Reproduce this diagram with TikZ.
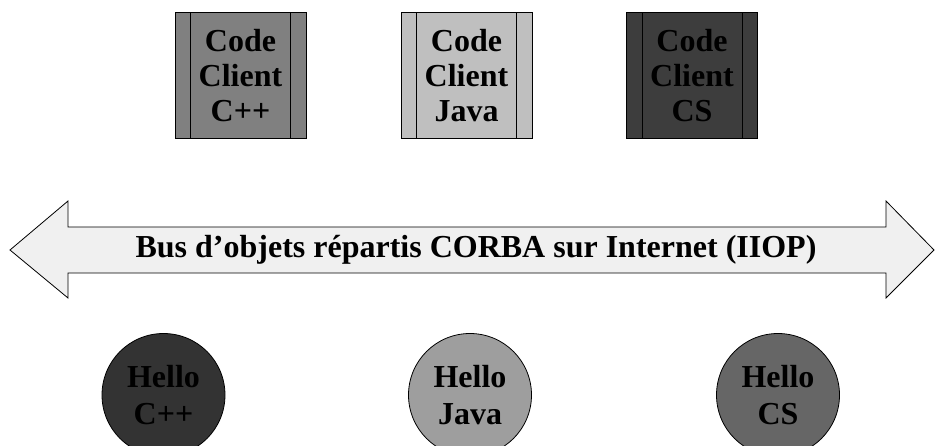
\documentclass[tikz,border=0pt]{standalone}
\usepackage{fontspec}
\setmainfont{Liberation Serif}
\begin{document}
\begin{tikzpicture}[x=1pt,y=-1pt,
  labelfont/.style={font=\fontsize{32}{35}\selectfont\bfseries, align=center, text=black},
  clientbox/.style={labelfont, draw=black, line width=1pt, minimum width=131pt,
    minimum height=126pt, inner sep=0pt,
    path picture={
      \draw[line width=1pt] ([xshift=15.5pt]path picture bounding box.north west) -- ([xshift=15.5pt]path picture bounding box.south west);
      \draw[line width=1pt] ([xshift=-15.5pt]path picture bounding box.north east) -- ([xshift=-15.5pt]path picture bounding box.south east);
    }},
  server/.style={labelfont, font=\fontsize{32}{37}\selectfont\bfseries, circle, draw=black, line width=0.8pt, minimum size=123pt, inner sep=0pt},
  busarrow/.style={draw=black, line width=0.8pt, fill=black!6}
]
\useasboundingbox (0,0) rectangle (936,446);
\clip (0,0) rectangle (936,446);

% client stubs
\node[clientbox, fill=black!50] (ccpp) at (240.5,76) {Code\\Client\\C++};
\node[clientbox, fill=black!25] (cjava) at (466.5,76) {Code\\Client\\Java};
\node[clientbox, fill=black!76] (ccs) at (692,76) {Code\\Client\\CS};

% CORBA bus
\draw[busarrow] (10,250) -- (68,201) -- (68,227) -- (886,227) -- (886,201)
  -- (934,250) -- (886,298) -- (886,273) -- (68,273) -- (68,298) -- cycle;
\node[labelfont] (bus) at (476,250) {Bus d’objets répartis CORBA sur Internet (IIOP)};

% servers
\node[server, fill=black!80] (hcpp) at (163.5,395) {Hello\\C++};
\node[server, fill=black!38] (hjava) at (470,395) {Hello\\Java};
\node[server, fill=black!60] (hcs) at (778,395) {Hello\\CS};
\end{tikzpicture}
\end{document}
